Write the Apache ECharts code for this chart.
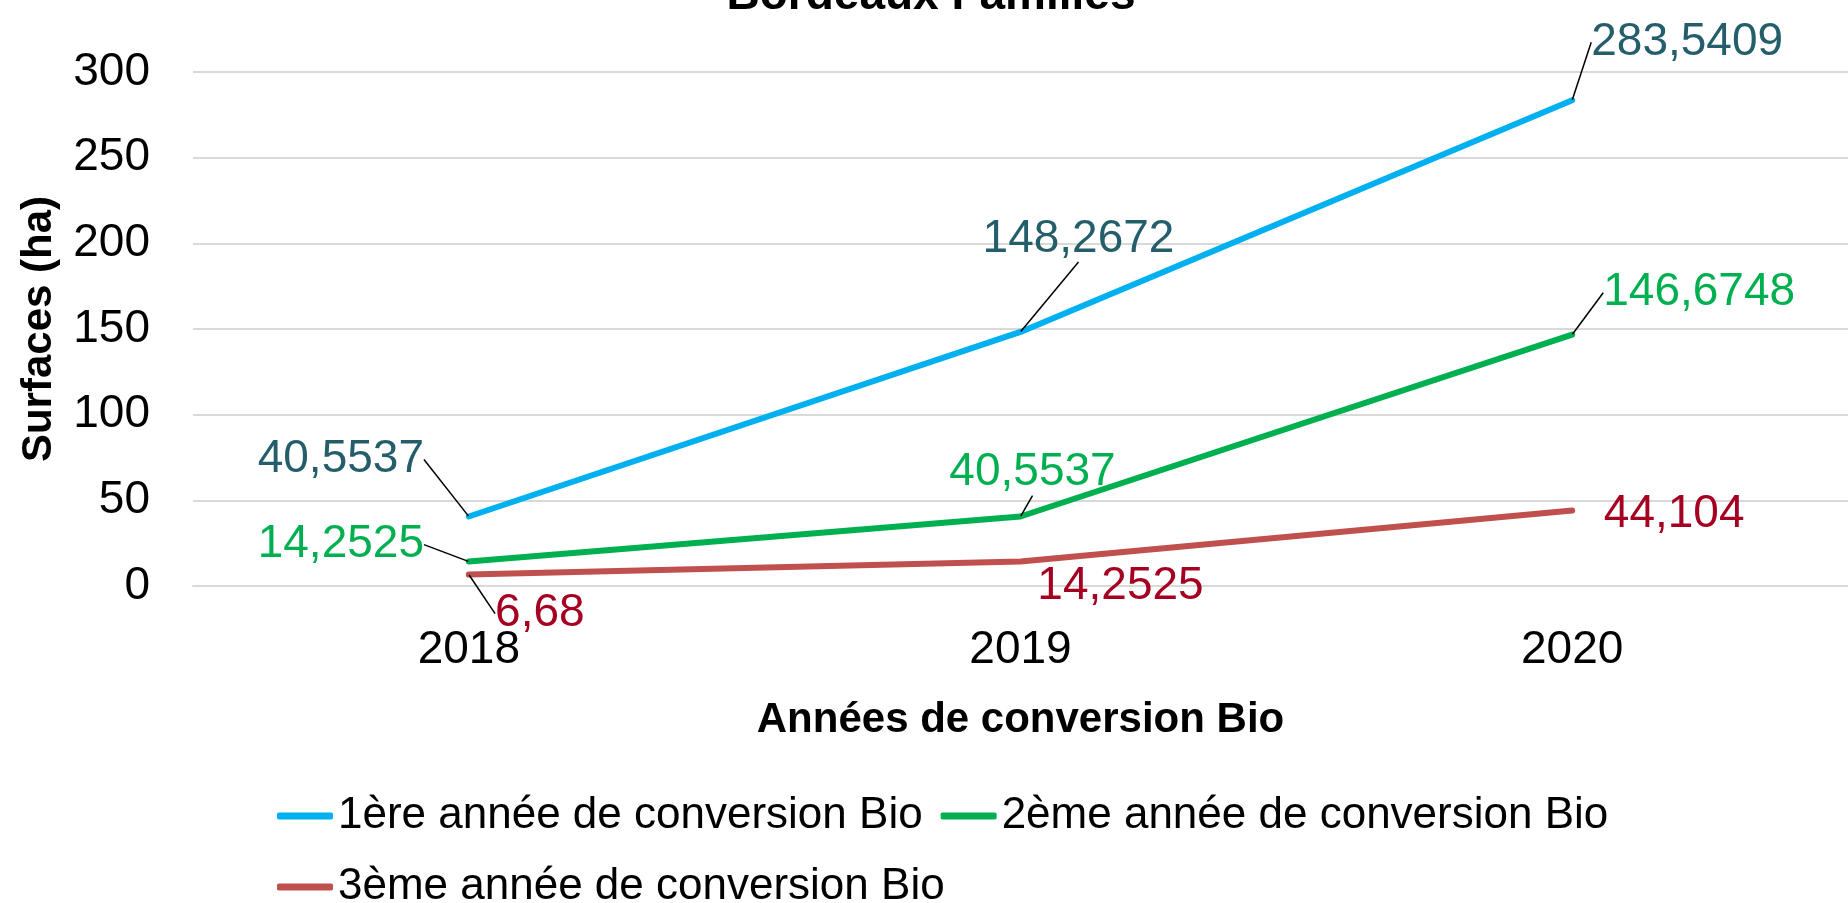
<!DOCTYPE html>
<html>
<head>
<meta charset="utf-8">
<title>Bordeaux Familles</title>
<script src="https://cdn.jsdelivr.net/npm/echarts@6/dist/echarts.min.js"></script>
<style>
  html, body { margin: 0; padding: 0; background: #fff; }
  #chart { width: 1848px; height: 903px; }
</style>
</head>
<body>
<div id="chart"></div>
<script>
// données
const years = ['2018', '2019', '2020'];
const annee1 = [40.5537, 148.2672, 283.5409];
const annee2 = [14.2525, 40.5537, 146.6748];
const annee3 = [6.68, 14.2525, 44.104];
const seriesNames = ['1ère année de conversion Bio', '2ème année de conversion Bio', '3ème année de conversion Bio'];

// décalage des étiquettes (centre de l'étiquette par rapport au point)
const offsets1 = [[-128, -57], [58, -93], [115, -58]];
const offsets2 = [[-128, -17], [12, -44], [127, -42]];
const offsets3 = [[71, 39], [100, 25], [102, 4]];
const leader3 = [true, false, false];

const font = '"Liberation Sans", sans-serif';

const chart = echarts.init(document.getElementById('chart'));

function makeSeries(name, values, lineColor, labelColor, offsets, leaders) {
  return {
    name: name,
    type: 'line',
    data: values.map((v, i) => ({
      value: v,
      labelLine: { show: leaders ? leaders[i] : true }
    })),
    symbol: 'circle',
    symbolSize: 1,
    showSymbol: true,
    lineStyle: { color: lineColor, width: 6, cap: 'round' },
    itemStyle: { color: lineColor },
    label: {
      show: true,
      position: 'inside',
      color: labelColor,
      fontFamily: font,
      fontSize: 46,
      formatter: p => String(p.value).replace('.', ',')
    },
    labelLine: {
      show: true,
      lineStyle: { color: '#000', width: 1.5 }
    },
    labelLayout: p => ({
      dx: offsets[p.dataIndex][0],
      dy: offsets[p.dataIndex][1]
    }),
    emphasis: { disabled: true }
  };
}

const legendText = { fontFamily: font, fontSize: 44, color: '#000' };

const option = {
  animation: false,
  title: {
    text: 'Bordeaux Familles',
    left: 926,
    textAlign: 'center',
    top: -32,
    textStyle: { fontFamily: font, fontSize: 46, fontWeight: 'bold', color: '#000' }
  },
  grid: { left: 193, right: -13, top: 72, bottom: 317 },
  legend: [
    {
      data: [seriesNames[0], seriesNames[1]],
      left: 272, top: 789,
      icon: 'roundRect',
      itemWidth: 56, itemHeight: 7, itemGap: 18,
      textStyle: legendText
    },
    {
      data: [seriesNames[2]],
      left: 272, top: 860,
      icon: 'roundRect',
      itemWidth: 56, itemHeight: 7,
      textStyle: legendText
    }
  ],
  xAxis: {
    type: 'category',
    data: years,
    boundaryGap: true,
    name: 'Années de conversion Bio',
    nameLocation: 'middle',
    nameGap: 113,
    nameTextStyle: { fontFamily: font, fontSize: 42, fontWeight: 'bold', color: '#000' },
    axisLine: { show: true, lineStyle: { color: '#D9D9D9', width: 2 } },
    axisTick: { show: false },
    axisLabel: { margin: 41, fontFamily: font, fontSize: 46, color: '#000' }
  },
  yAxis: {
    type: 'value',
    min: 0, max: 300, interval: 50,
    name: 'Surfaces (ha)',
    nameLocation: 'middle',
    nameGap: 133,
    nameTextStyle: { fontFamily: font, fontSize: 42, fontWeight: 'bold', color: '#000' },
    axisLine: { show: false },
    axisTick: { show: false },
    axisLabel: { margin: 43, fontFamily: font, fontSize: 46, color: '#000' },
    splitLine: { lineStyle: { color: '#D9D9D9', width: 2 } }
  },
  series: [
    makeSeries(seriesNames[0], annee1, '#00B0F0', '#255E6B', offsets1),
    makeSeries(seriesNames[1], annee2, '#00B050', '#00B050', offsets2),
    makeSeries(seriesNames[2], annee3, '#C0504D', '#A50021', offsets3, leader3)
  ]
};

chart.setOption(option);
</script>
</body>
</html>
